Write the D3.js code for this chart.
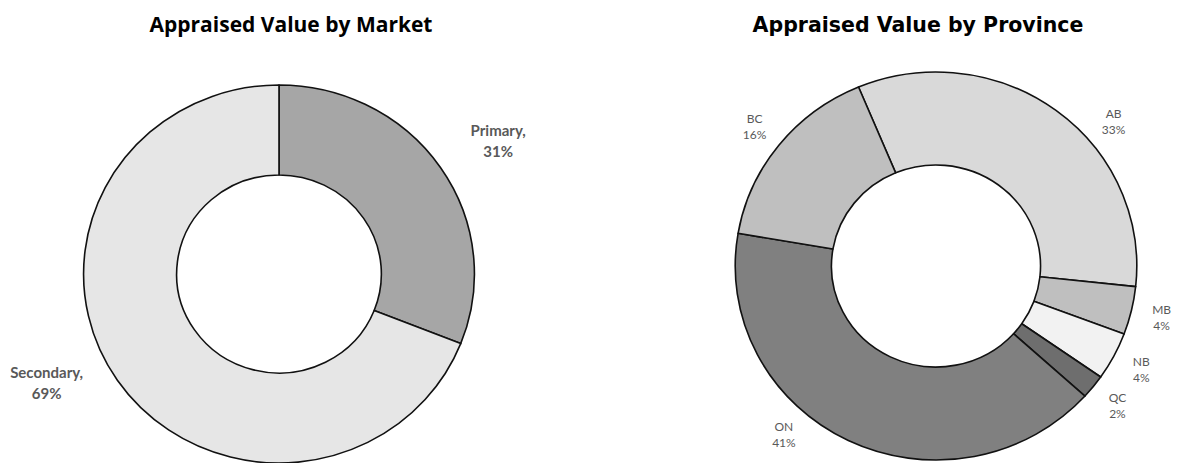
<!DOCTYPE html>
<html>
<head>
<meta charset="utf-8">
<script src="https://cdn.jsdelivr.net/npm/d3@7/dist/d3.min.js"></script>
<style>
  html, body { margin: 0; padding: 0; background: #fff; }
  svg { display: block; }
</style>
</head>
<body>
<svg id="chart" width="1179" height="463"></svg>
<script>
// ---- Data ----
const marketNames  = ["Primary", "Secondary"];
const marketValues = [31, 69];
const marketColors = ["#a6a6a6", "#e6e6e6"];

const provinceNames  = ["AB", "MB", "NB", "QC", "ON", "BC"];
const provinceValues = [33, 4, 4, 2, 41, 16];
const provinceColors = ["#d9d9d9", "#bfbfbf", "#f2f2f2", "#6e6e6e", "#808080", "#bfbfbf"];

// ---- Layout ----
const svg = d3.select("#chart");
const deg = Math.PI / 180;

function donut(opts) {
  const { names, values, colors, cx, cy, outer, inner, sx, startDeg,
          labelRadius, labelAngles, title, titleX, titleY, titleFont,
          titleSize, labelSize, labelWeight, lineGap, labelText } = opts;

  const data = names.map((n, i) => ({ name: n, value: values[i], color: colors[i] }));
  const a0 = startDeg * deg;
  const pie = d3.pie().value(d => d.value).sort(null)
    .startAngle(a0).endAngle(a0 + 2 * Math.PI);
  const arcs = pie(data);
  const arc = d3.arc().innerRadius(inner).outerRadius(outer);

  const g = svg.append("g")
    .attr("transform", `translate(${cx},${cy}) scale(${sx},1)`);

  g.selectAll("path")
    .data(arcs)
    .join("path")
    .attr("d", arc)
    .attr("fill", d => d.data.color)
    .attr("stroke", "#111")
    .attr("stroke-width", 1.6)
    .attr("vector-effect", "non-scaling-stroke")
    .attr("stroke-linejoin", "round");

  // data labels, two lines, placed outside the ring
  const lg = svg.append("g");
  arcs.forEach(d => {
    const mid = labelAngles[d.data.name] != null
      ? labelAngles[d.data.name] * deg
      : (d.startAngle + d.endAngle) / 2;
    const x = cx + sx * labelRadius * Math.sin(mid);
    const y = cy - labelRadius * Math.cos(mid);
    const lines = labelText(d.data);
    const t = lg.append("text")
      .attr("x", x)
      .attr("y", y - lineGap / 2 + labelSize * 0.36)
      .attr("text-anchor", "middle")
      .attr("font-family", "Lato, 'Open Sans', sans-serif")
      .attr("font-size", labelSize)
      .attr("font-weight", labelWeight)
      .attr("fill", "#595959");
    lines.forEach((s, i) => {
      t.append("tspan")
        .attr("x", x)
        .attr("dy", i === 0 ? 0 : lineGap)
        .text(s);
    });
  });

  svg.append("text")
    .attr("x", titleX)
    .attr("y", titleY)
    .attr("text-anchor", "middle")
    .attr("font-family", titleFont)
    .attr("font-size", titleSize)
    .attr("font-weight", "bold")
    .attr("fill", "#000")
    .text(title);
}

donut({
  names: marketNames, values: marketValues, colors: marketColors,
  cx: 279, cy: 274, outer: 189, inner: 99, sx: 1.034, startDeg: 0,
  labelRadius: 250, labelAngles: { Primary: 58, Secondary: 244 },
  title: "Appraised Value by Market", titleX: 291, titleY: 32,
  titleFont: "'Open Sans', sans-serif", titleSize: 21,
  labelSize: 15, labelWeight: "bold", lineGap: 21,
  labelText: d => [d.name + ",", d.value + "%"]
});

donut({
  names: provinceNames, values: provinceValues, colors: provinceColors,
  cx: 936, cy: 266, outer: 194, inner: 101, sx: 1.035, startDeg: -22.7,
  labelRadius: 224, labelAngles: { AB: 50, ON: 221 },
  title: "Appraised Value by Province", titleX: 918, titleY: 32,
  titleFont: "'DejaVu Sans', sans-serif", titleSize: 20.5,
  labelSize: 12, labelWeight: "normal", lineGap: 16,
  labelText: d => [d.name, d.value + "%"]
});
</script>
</body>
</html>
